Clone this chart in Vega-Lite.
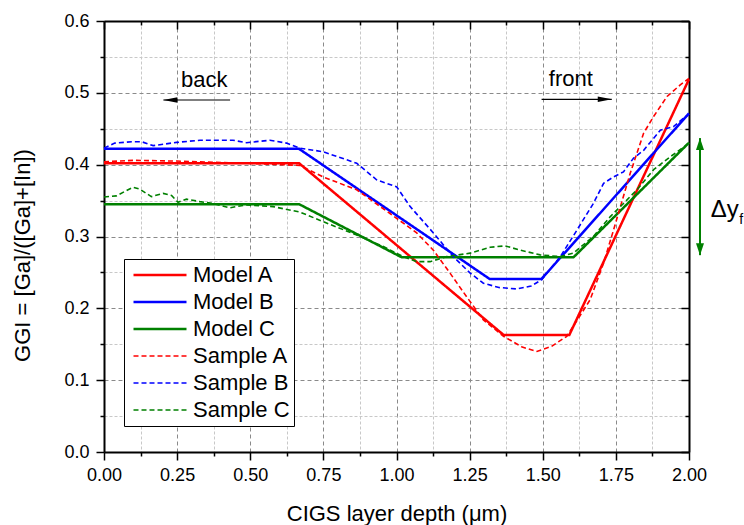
{
  "$schema": "https://vega.github.io/schema/vega-lite/v6.json",
  "width": 585,
  "height": 431,
  "autosize": {"type": "none"},
  "padding": {"left": 104, "top": 21, "right": 55, "bottom": 73},
  "background": "white",
  "config": {
    "font": "Liberation Sans",
    "view": {"stroke": null},
    "axis": {"labelColor": "black", "titleColor": "black", "tickColor": "black", "domainColor": "black", "titleFontWeight": "normal"}
  },
  "datasets": {
    "curves": [
      {"s": "Model A", "x": 0, "y": 0.402}, {"s": "Model A", "x": 0.667, "y": 0.402}, {"s": "Model A", "x": 1.366, "y": 0.163}, {"s": "Model A", "x": 1.591, "y": 0.163}, {"s": "Model A", "x": 2, "y": 0.519},
      {"s": "Model B", "x": 0, "y": 0.422}, {"s": "Model B", "x": 0.667, "y": 0.422}, {"s": "Model B", "x": 1.318, "y": 0.241}, {"s": "Model B", "x": 1.496, "y": 0.241}, {"s": "Model B", "x": 2, "y": 0.4715},
      {"s": "Model C", "x": 0, "y": 0.345}, {"s": "Model C", "x": 0.667, "y": 0.345}, {"s": "Model C", "x": 1.018, "y": 0.271}, {"s": "Model C", "x": 1.605, "y": 0.271}, {"s": "Model C", "x": 2, "y": 0.4306},
      {"s": "Sample A", "x": 0, "y": 0.404}, {"s": "Sample A", "x": 0.1, "y": 0.406}, {"s": "Sample A", "x": 0.25, "y": 0.405}, {"s": "Sample A", "x": 0.487, "y": 0.402}, {"s": "Sample A", "x": 0.67, "y": 0.399}, {"s": "Sample A", "x": 0.749, "y": 0.383}, {"s": "Sample A", "x": 0.864, "y": 0.365}, {"s": "Sample A", "x": 0.978, "y": 0.332}, {"s": "Sample A", "x": 1.069, "y": 0.305}, {"s": "Sample A", "x": 1.126, "y": 0.281}, {"s": "Sample A", "x": 1.183, "y": 0.249}, {"s": "Sample A", "x": 1.24, "y": 0.216}, {"s": "Sample A", "x": 1.297, "y": 0.184}, {"s": "Sample A", "x": 1.366, "y": 0.161}, {"s": "Sample A", "x": 1.43, "y": 0.146}, {"s": "Sample A", "x": 1.48, "y": 0.14}, {"s": "Sample A", "x": 1.53, "y": 0.147}, {"s": "Sample A", "x": 1.582, "y": 0.161}, {"s": "Sample A", "x": 1.62, "y": 0.185}, {"s": "Sample A", "x": 1.662, "y": 0.212}, {"s": "Sample A", "x": 1.708, "y": 0.263}, {"s": "Sample A", "x": 1.742, "y": 0.309}, {"s": "Sample A", "x": 1.776, "y": 0.356}, {"s": "Sample A", "x": 1.799, "y": 0.388}, {"s": "Sample A", "x": 1.822, "y": 0.416}, {"s": "Sample A", "x": 1.845, "y": 0.444}, {"s": "Sample A", "x": 1.879, "y": 0.467}, {"s": "Sample A", "x": 1.925, "y": 0.495}, {"s": "Sample A", "x": 1.97, "y": 0.511}, {"s": "Sample A", "x": 2, "y": 0.52},
      {"s": "Sample B", "x": 0, "y": 0.423}, {"s": "Sample B", "x": 0.037, "y": 0.43}, {"s": "Sample B", "x": 0.099, "y": 0.432}, {"s": "Sample B", "x": 0.128, "y": 0.432}, {"s": "Sample B", "x": 0.168, "y": 0.4265}, {"s": "Sample B", "x": 0.248, "y": 0.431}, {"s": "Sample B", "x": 0.328, "y": 0.434}, {"s": "Sample B", "x": 0.396, "y": 0.434}, {"s": "Sample B", "x": 0.441, "y": 0.434}, {"s": "Sample B", "x": 0.487, "y": 0.4306}, {"s": "Sample B", "x": 0.567, "y": 0.434}, {"s": "Sample B", "x": 0.624, "y": 0.43}, {"s": "Sample B", "x": 0.67, "y": 0.423}, {"s": "Sample B", "x": 0.749, "y": 0.418}, {"s": "Sample B", "x": 0.864, "y": 0.402}, {"s": "Sample B", "x": 0.932, "y": 0.379}, {"s": "Sample B", "x": 1.001, "y": 0.369}, {"s": "Sample B", "x": 1.046, "y": 0.342}, {"s": "Sample B", "x": 1.126, "y": 0.305}, {"s": "Sample B", "x": 1.194, "y": 0.272}, {"s": "Sample B", "x": 1.252, "y": 0.249}, {"s": "Sample B", "x": 1.297, "y": 0.235}, {"s": "Sample B", "x": 1.35, "y": 0.229}, {"s": "Sample B", "x": 1.411, "y": 0.227}, {"s": "Sample B", "x": 1.46, "y": 0.231}, {"s": "Sample B", "x": 1.497, "y": 0.24}, {"s": "Sample B", "x": 1.514, "y": 0.249}, {"s": "Sample B", "x": 1.56, "y": 0.272}, {"s": "Sample B", "x": 1.617, "y": 0.309}, {"s": "Sample B", "x": 1.673, "y": 0.346}, {"s": "Sample B", "x": 1.708, "y": 0.374}, {"s": "Sample B", "x": 1.742, "y": 0.383}, {"s": "Sample B", "x": 1.776, "y": 0.39}, {"s": "Sample B", "x": 1.81, "y": 0.409}, {"s": "Sample B", "x": 1.845, "y": 0.42}, {"s": "Sample B", "x": 1.902, "y": 0.448}, {"s": "Sample B", "x": 1.947, "y": 0.453}, {"s": "Sample B", "x": 1.981, "y": 0.4645}, {"s": "Sample B", "x": 2, "y": 0.47},
      {"s": "Sample C", "x": 0, "y": 0.355}, {"s": "Sample C", "x": 0.042, "y": 0.3565}, {"s": "Sample C", "x": 0.099, "y": 0.3686}, {"s": "Sample C", "x": 0.122, "y": 0.366}, {"s": "Sample C", "x": 0.162, "y": 0.3555}, {"s": "Sample C", "x": 0.202, "y": 0.36}, {"s": "Sample C", "x": 0.231, "y": 0.357}, {"s": "Sample C", "x": 0.253, "y": 0.3477}, {"s": "Sample C", "x": 0.282, "y": 0.352}, {"s": "Sample C", "x": 0.328, "y": 0.3486}, {"s": "Sample C", "x": 0.373, "y": 0.3458}, {"s": "Sample C", "x": 0.43, "y": 0.34}, {"s": "Sample C", "x": 0.487, "y": 0.344}, {"s": "Sample C", "x": 0.578, "y": 0.3416}, {"s": "Sample C", "x": 0.67, "y": 0.334}, {"s": "Sample C", "x": 0.749, "y": 0.3207}, {"s": "Sample C", "x": 0.864, "y": 0.302}, {"s": "Sample C", "x": 0.955, "y": 0.286}, {"s": "Sample C", "x": 1.023, "y": 0.272}, {"s": "Sample C", "x": 1.069, "y": 0.265}, {"s": "Sample C", "x": 1.115, "y": 0.265}, {"s": "Sample C", "x": 1.172, "y": 0.272}, {"s": "Sample C", "x": 1.252, "y": 0.2768}, {"s": "Sample C", "x": 1.32, "y": 0.285}, {"s": "Sample C", "x": 1.371, "y": 0.287}, {"s": "Sample C", "x": 1.423, "y": 0.281}, {"s": "Sample C", "x": 1.491, "y": 0.2744}, {"s": "Sample C", "x": 1.56, "y": 0.272}, {"s": "Sample C", "x": 1.605, "y": 0.277}, {"s": "Sample C", "x": 1.673, "y": 0.3}, {"s": "Sample C", "x": 1.731, "y": 0.3277}, {"s": "Sample C", "x": 1.776, "y": 0.346}, {"s": "Sample C", "x": 1.822, "y": 0.365}, {"s": "Sample C", "x": 1.879, "y": 0.393}, {"s": "Sample C", "x": 1.936, "y": 0.411}, {"s": "Sample C", "x": 2, "y": 0.43}
    ],
    "notes": [
      {"label": "back", "x": 0.343, "y": 0.508},
      {"label": "front", "x": 1.596, "y": 0.5095}
    ],
    "arrows": [
      {"name": "back", "x": 0.431, "x2": 0.203, "y": 0.49, "dir": "left"},
      {"name": "front", "x": 1.496, "x2": 1.736, "y": 0.491, "dir": "right"}
    ],
    "delta": [
      {"x": 2.0376, "y": 0.437, "y2": 0.274}
    ],
    "deltaHeads": [
      {"x": 2.0376, "y": 0.437, "dir": "up"},
      {"x": 2.0376, "y": 0.274, "dir": "down"}
    ],
    "deltaLabel": [
      {"t": "Δy", "x": 2.074, "y": 0.3267}
    ],
    "deltaSub": [
      {"t": "f", "x": 2.172, "y": 0.3174}
    ]
  },
  "layer": [
    {
      "data": {"name": "curves"},
      "mark": {"type": "line"},
      "encoding": {
        "x": {"field": "x", "type": "quantitative", "scale": {"domain": [0, 2], "nice": false, "zero": false},
          "axis": {"orient": "bottom", "values": [0, 0.25, 0.5, 0.75, 1, 1.25, 1.5, 1.75, 2], "format": ".2f", "grid": true, "gridColor": "#8a8a8a", "gridDash": [4, 3], "gridWidth": 1, "domain": true, "domainWidth": 2, "ticks": true, "tickSize": 8, "tickWidth": 1.5, "labelFontSize": 18, "labelPadding": 6, "labelFlush": false, "labelOverlap": false, "title": "CIGS layer depth (μm)", "titleFontSize": 22, "titleBaseline": "alphabetic", "titleY": 68}},
        "y": {"field": "y", "type": "quantitative", "scale": {"domain": [0, 0.6], "nice": false, "zero": false},
          "axis": {"orient": "left", "values": [0, 0.1, 0.2, 0.3, 0.4, 0.5, 0.6], "format": ".1f", "grid": true, "gridColor": "#8a8a8a", "gridDash": [4, 3], "gridWidth": 1, "domain": true, "domainWidth": 2, "ticks": true, "tickSize": 8, "tickWidth": 1.5, "labelFontSize": 18, "labelPadding": 7, "labelFlush": false, "labelOverlap": false, "title": "GGI = [Ga]/([Ga]+[In])", "titleFontSize": 22, "titleAngle": 270, "titleX": -82, "titleY": 234, "titleBaseline": "middle", "titleAlign": "center"}},
        "color": {"field": "s", "type": "nominal",
          "scale": {"domain": ["Model A", "Model B", "Model C", "Sample A", "Sample B", "Sample C"], "range": ["#ff0000", "#0000ff", "#008000", "#ff0000", "#0000ff", "#008000"]},
          "legend": {"title": null, "orient": "none", "legendX": 20, "legendY": 238, "symbolType": "stroke", "symbolSize": 2809, "clipHeight": 24, "rowPadding": 3, "padding": 4, "symbolOffset": 4, "labelOffset": 5, "labelFontSize": 22, "labelColor": "black", "strokeColor": "black", "fillColor": "white", "labelLimit": 0}},
        "strokeDash": {"field": "s", "type": "nominal",
          "scale": {"domain": ["Model A", "Model B", "Model C", "Sample A", "Sample B", "Sample C"], "range": [[1, 0], [1, 0], [1, 0], [5, 3], [5, 3], [5, 3]]},
          "legend": {"title": null, "orient": "none", "legendX": 20, "legendY": 238, "symbolType": "stroke", "symbolSize": 2809, "clipHeight": 24, "rowPadding": 3, "padding": 4, "symbolOffset": 4, "labelOffset": 5, "labelFontSize": 22, "labelColor": "black", "strokeColor": "black", "fillColor": "white", "labelLimit": 0}},
        "strokeWidth": {"field": "s", "type": "nominal",
          "scale": {"type": "ordinal", "domain": ["Model A", "Model B", "Model C", "Sample A", "Sample B", "Sample C"], "range": [2.5, 2.5, 2.5, 1.6, 1.6, 1.6]},
          "legend": {"title": null, "orient": "none", "legendX": 20, "legendY": 238, "symbolType": "stroke", "symbolSize": 2809, "clipHeight": 24, "rowPadding": 3, "padding": 4, "symbolOffset": 4, "labelOffset": 5, "labelFontSize": 22, "labelColor": "black", "strokeColor": "black", "fillColor": "white", "labelLimit": 0}}
      }
    },
    {
      "data": {"name": "notes"},
      "mark": {"type": "text", "fontSize": 22, "align": "center", "baseline": "alphabetic", "color": "black"},
      "encoding": {
        "x": {"field": "x", "type": "quantitative", "scale": {"domain": [0, 2], "nice": false, "zero": false},
          "axis": {"orient": "bottom", "values": [0.125, 0.375, 0.625, 0.875, 1.125, 1.375, 1.625, 1.875], "grid": true, "gridColor": "#c8c8c8", "gridDash": [3, 2], "gridWidth": 1, "domain": false, "ticks": true, "tickSize": 4, "tickWidth": 1.5, "labels": false, "title": null}},
        "y": {"field": "y", "type": "quantitative", "scale": {"domain": [0, 0.6], "nice": false, "zero": false},
          "axis": {"orient": "left", "values": [0.05, 0.15, 0.25, 0.35, 0.45, 0.55], "grid": true, "gridColor": "#c8c8c8", "gridDash": [3, 2], "gridWidth": 1, "domain": false, "ticks": true, "tickSize": 4, "tickWidth": 1.5, "labels": false, "title": null}},
        "text": {"field": "label"}
      }
    },
    {
      "data": {"name": "arrows"},
      "mark": {"type": "rule", "color": "black", "strokeWidth": 1.2},
      "encoding": {
        "x": {"field": "x", "type": "quantitative", "scale": {"domain": [0, 2], "nice": false, "zero": false},
          "axis": {"orient": "top", "values": [0, 0.25, 0.5, 0.75, 1, 1.25, 1.5, 1.75, 2], "grid": false, "domain": true, "domainWidth": 2, "ticks": true, "tickSize": -8, "tickWidth": 1.5, "labels": false, "title": null}},
        "x2": {"field": "x2"},
        "y": {"field": "y", "type": "quantitative", "scale": {"domain": [0, 0.6], "nice": false, "zero": false},
          "axis": {"orient": "right", "values": [0, 0.1, 0.2, 0.3, 0.4, 0.5, 0.6], "grid": false, "domain": true, "domainWidth": 2, "ticks": true, "tickSize": -8, "tickWidth": 1.5, "labels": false, "title": null}}
      }
    },
    {
      "data": {"name": "arrows"},
      "mark": {"type": "point", "filled": true, "color": "black", "opacity": 1, "size": 196},
      "encoding": {
        "x": {"field": "x2", "type": "quantitative", "scale": {"domain": [0, 2], "nice": false, "zero": false},
          "axis": {"orient": "top", "values": [0.125, 0.375, 0.625, 0.875, 1.125, 1.375, 1.625, 1.875], "grid": false, "domain": false, "ticks": true, "tickSize": -4, "tickWidth": 1.5, "labels": false, "title": null}},
        "y": {"field": "y", "type": "quantitative", "scale": {"domain": [0, 0.6], "nice": false, "zero": false},
          "axis": {"orient": "right", "values": [0.05, 0.15, 0.25, 0.35, 0.45, 0.55], "grid": false, "domain": false, "ticks": true, "tickSize": -4, "tickWidth": 1.5, "labels": false, "title": null}},
        "shape": {"field": "dir", "type": "nominal", "legend": null,
          "scale": {"domain": ["left", "right", "up", "down"], "range": ["M0,0L2,-0.4L2,0.4Z", "M0,0L-2,-0.4L-2,0.4Z", "M0,0L-0.67,2L0.67,2Z", "M0,0L-0.67,-2L0.67,-2Z"]}}
      }
    },
    {
      "data": {"name": "delta"},
      "mark": {"type": "rule", "color": "#008000", "strokeWidth": 2},
      "encoding": {
        "x": {"field": "x", "type": "quantitative", "axis": null},
        "y": {"field": "y", "type": "quantitative", "axis": null},
        "y2": {"field": "y2"}
      }
    },
    {
      "data": {"name": "deltaHeads"},
      "mark": {"type": "point", "filled": true, "color": "#008000", "opacity": 1, "size": 144},
      "encoding": {
        "x": {"field": "x", "type": "quantitative", "axis": null},
        "y": {"field": "y", "type": "quantitative", "axis": null},
        "shape": {"field": "dir", "type": "nominal", "legend": null}
      }
    },
    {
      "data": {"name": "deltaLabel"},
      "mark": {"type": "text", "fontSize": 24, "align": "left", "baseline": "alphabetic", "color": "black"},
      "encoding": {
        "x": {"field": "x", "type": "quantitative", "axis": null},
        "y": {"field": "y", "type": "quantitative", "axis": null},
        "text": {"field": "t"}
      }
    },
    {
      "data": {"name": "deltaSub"},
      "mark": {"type": "text", "fontSize": 14, "align": "left", "baseline": "alphabetic", "color": "black"},
      "encoding": {
        "x": {"field": "x", "type": "quantitative", "axis": null},
        "y": {"field": "y", "type": "quantitative", "axis": null},
        "text": {"field": "t"}
      }
    }
  ],
  "resolve": {"axis": {"x": "independent", "y": "independent"}}
}
